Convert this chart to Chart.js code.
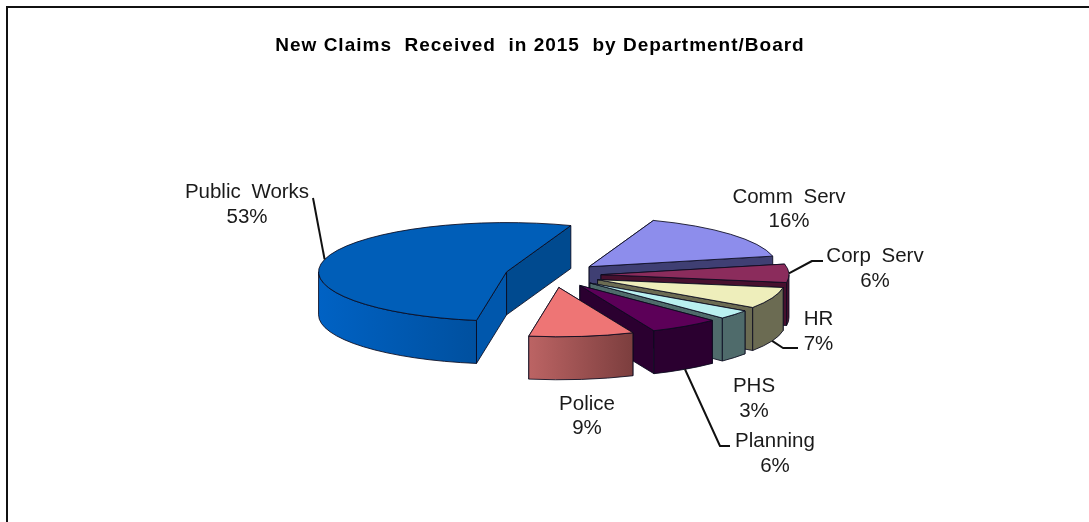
<!DOCTYPE html>
<html lang="en">
<head>
    <meta charset="UTF-8">
    <title>New Claims Received in 2015</title>
    <script src="https://cdn.jsdelivr.net/npm/chart.js"></script>
    <style>
        html, body { margin: 0; height: 100%; overflow: hidden; background: #fff; }
        #frame { position: absolute; left: 6px; top: 6px; width: 1200px; height: 700px; border: 2px solid #111; }
        #wrap { position: absolute; left: 0; top: 0; width: 1089px; height: 522px; }
    </style>
</head>
<body>
    <div id="frame"></div>
    <div id="wrap"><canvas id="claimsChart" width="1089" height="522"></canvas></div>

    <script>
        const departments = ['Public Works', 'Comm Serv', 'Corp Serv', 'HR', 'PHS', 'Planning', 'Police'];
        const shares = [53, 16, 6, 7, 3, 6, 9];

        const topColors = ['#005EB8', '#8D8DEC', '#8B2C5C', '#EEEEBB', '#B9F0F0', '#5C0058', '#EE7575'];
        const startWallColors = ['#0057AC', '#3F3F73', '#47102E', '#6B6B52', '#4F6B6B', '#2B0030', '#7C3E3E'];
        const endWallColors = ['#004A8F', '#3F3F73', '#47102E', '#6B6B52', '#4F6B6B', '#2B0030', '#BC6464'];
        const stripLeftColors = ['#0062C4', '#3F3F73', '#47102E', '#6B6B52', '#4F6B6B', '#2B0030', '#BC6464'];
        const stripRightColors = ['#00509F', '#3F3F73', '#47102E', '#6B6B52', '#4F6B6B', '#2B0030', '#7C3E3E'];

        // text centre and leader elbow for each label, same order as departments
        const labelSpots = [
            { x: 247, y: 192.5, leader: [[313, 198]], low: false },
            { x: 789, y: 197 },
            { x: 875, y: 256.5, leader: [[812, 261], [823, 261]], low: false },
            { x: 818.5, y: 319.5, leader: [[783, 348], [798, 348]], low: true },
            { x: 754, y: 386.5 },
            { x: 775, y: 441.5, leader: [[720, 446], [730, 446]], low: true },
            { x: 587, y: 404 }
        ];

        const FONT = '"Liberation Sans", Arial, sans-serif';
        const CENTER_X = 553;
        const CENTER_Y = 275;
        const SQUASH = 0.262;
        const EXPLODE = 48;
        const DEPTH = 43;
        const paintOrder = [1, 2, 3, 4, 5, 6, 0];

        function sliceFrame(arc) {
            const mid = (arc.startAngle + arc.endAngle) / 2;
            return {
                x: CENTER_X + Math.cos(mid) * EXPLODE,
                y: CENTER_Y + Math.sin(mid) * EXPLODE * SQUASH,
                rx: arc.outerRadius,
                ry: arc.outerRadius * SQUASH,
                mid
            };
        }

        function drawWall(ctx, f, angle, color) {
            const ex = f.x + Math.cos(angle) * f.rx;
            const ey = f.y + Math.sin(angle) * f.ry;
            ctx.beginPath();
            ctx.moveTo(f.x, f.y);
            ctx.lineTo(ex, ey);
            ctx.lineTo(ex, ey + DEPTH);
            ctx.lineTo(f.x, f.y + DEPTH);
            ctx.closePath();
            ctx.fillStyle = color;
            ctx.fill();
            ctx.stroke();
        }

        function drawStrip(ctx, f, arc, i) {
            // only the part of the rim that faces the viewer
            for (let k = 0; k < 2; k++) {
                const from = Math.max(arc.startAngle, k * 2 * Math.PI);
                const to = Math.min(arc.endAngle, Math.PI + k * 2 * Math.PI);
                if (to <= from) continue;
                const xa = f.x + Math.cos(from) * f.rx;
                const xb = f.x + Math.cos(to) * f.rx;
                const left = (from < k * 2 * Math.PI + Math.PI && to >= k * 2 * Math.PI + Math.PI) ? f.x - f.rx : Math.min(xa, xb);
                const grad = ctx.createLinearGradient(left, 0, Math.max(xa, xb), 0);
                grad.addColorStop(0, stripLeftColors[i]);
                grad.addColorStop(1, stripRightColors[i]);
                ctx.beginPath();
                ctx.ellipse(f.x, f.y, f.rx, f.ry, 0, from, to);
                ctx.ellipse(f.x, f.y + DEPTH, f.rx, f.ry, 0, to, from, true);
                ctx.closePath();
                ctx.fillStyle = grad;
                ctx.fill();
                ctx.stroke();
            }
        }

        const pie3d = {
            id: 'pie3d',
            beforeDraw(chart) {
                // the title is set wider than the font's own spacing
                chart.ctx.letterSpacing = '1px';
            },
            beforeDatasetDraw(chart, args) {
                const ctx = chart.ctx;
                const arcs = args.meta.data;
                ctx.letterSpacing = '0px';
                ctx.save();
                ctx.lineWidth = 1;
                ctx.strokeStyle = 'rgba(10,10,30,0.85)';
                ctx.lineJoin = 'round';

                paintOrder.forEach(i => {
                    const arc = arcs[i];
                    const f = sliceFrame(arc);
                    drawWall(ctx, f, arc.startAngle, startWallColors[i]);
                    drawWall(ctx, f, arc.endAngle, endWallColors[i]);
                    drawStrip(ctx, f, arc, i);
                });

                // top faces are the library's own arcs, flattened and pulled apart
                paintOrder.forEach(i => {
                    const arc = arcs[i];
                    const f = sliceFrame(arc);
                    ctx.save();
                    ctx.translate(CENTER_X, CENTER_Y);
                    ctx.scale(1, SQUASH);
                    ctx.translate(-arc.x, -arc.y);
                    ctx.translate(Math.cos(f.mid) * EXPLODE, Math.sin(f.mid) * EXPLODE);
                    arc.draw(ctx);
                    ctx.restore();

                    ctx.beginPath();
                    ctx.moveTo(f.x, f.y);
                    ctx.ellipse(f.x, f.y, f.rx, f.ry, 0, arc.startAngle, arc.endAngle);
                    ctx.closePath();
                    ctx.stroke();
                });

                // labels and leaders
                ctx.strokeStyle = '#111';
                ctx.lineWidth = 2;
                labelSpots.forEach((spot, i) => {
                    if (!spot.leader) return;
                    const f = sliceFrame(arcs[i]);
                    ctx.beginPath();
                    ctx.moveTo(f.x + Math.cos(f.mid) * f.rx, f.y + Math.sin(f.mid) * f.ry + (spot.low ? DEPTH : 0));
                    spot.leader.forEach(p => ctx.lineTo(p[0], p[1]));
                    ctx.stroke();
                });

                ctx.fillStyle = '#1a1a1a';
                ctx.font = '20.5px ' + FONT;
                ctx.wordSpacing = '5px';
                ctx.textAlign = 'center';
                ctx.textBaseline = 'middle';
                labelSpots.forEach((spot, i) => {
                    ctx.fillText(departments[i], spot.x, spot.y);
                    ctx.fillText(shares[i] + '%', spot.x, spot.y + 24.5);
                });
                ctx.restore();
                return false;
            }
        };

        new Chart(document.getElementById('claimsChart'), {
            type: 'pie',
            data: {
                labels: departments,
                datasets: [{
                    data: shares,
                    backgroundColor: topColors,
                    borderWidth: 0,
                    radius: 188
                }]
            },
            options: {
                responsive: false,
                animation: false,
                rotation: 189.2,
                layout: { padding: { right: 9 } },
                plugins: {
                    legend: { display: false },
                    tooltip: { enabled: false },
                    title: {
                        display: true,
                        text: 'New Claims  Received  in 2015  by Department/Board',
                        color: '#000',
                        font: { family: FONT, size: 19, weight: 'bold' },
                        padding: { top: 34.5, bottom: 10 }
                    }
                }
            },
            plugins: [pie3d]
        });
    </script>
</body>
</html>
